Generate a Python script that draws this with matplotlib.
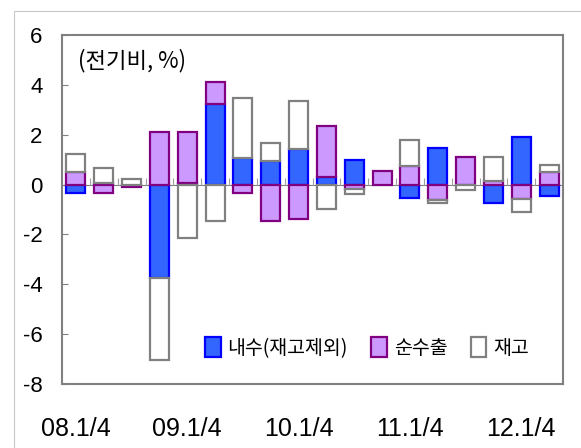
import matplotlib
matplotlib.use('Agg')
import matplotlib.pyplot as plt
import numpy as np
from matplotlib.patches import Rectangle

plt.rcParams['axes.unicode_minus'] = False

# quarters 08.1/4 ~ 12.2/4
quarters = ['08.1/4', '08.2/4', '08.3/4', '08.4/4',
            '09.1/4', '09.2/4', '09.3/4', '09.4/4',
            '10.1/4', '10.2/4', '10.3/4', '10.4/4',
            '11.1/4', '11.2/4', '11.3/4', '11.4/4',
            '12.1/4', '12.2/4']
tick_every = 4

# contributions to growth (%p)
domestic = [-0.32, 0.05, 0.0, -3.75, 0.07, 3.23, 1.08, 0.96, 1.41,
            0.32, 1.0, 0.0, -0.52, 1.45, 0.0, -0.75, 1.92, -0.45]
net_export = [0.52, -0.32, -0.08, 2.12, 2.05, 0.89, -0.33, -1.45, -1.39,
              2.03, -0.18, 0.55, 0.75, -0.62, 1.11, 0.15, -0.56, 0.5]
inventory = [0.7, 0.6, 0.22, -3.3, -2.15, -1.45, 2.38, 0.72, 1.96,
             -1.0, -0.18, 0.0, 1.03, -0.12, -0.22, 0.95, -0.56, 0.27]

series_names = ['내수(재고제외)', '순수출', '재고']
fills = ['#3366FF', '#CC99FF', '#FFFFFF']
edges = ['#0000FF', '#800080', '#808080']

fig = plt.figure(figsize=(5.81, 4.48), dpi=100)
ax = fig.add_axes([62/581, 1 - 384/448, 501/581, 349/448])

# outer chart-area border (only top/left visible)
fig.add_artist(Rectangle((14/581, -0.1), 1.2, 1.1 - 11/448,
                         transform=fig.transFigure, fill=False,
                         edgecolor='#C8C8C8', linewidth=0.8))

x = np.arange(len(quarters))
pos_base = np.zeros(len(x))
neg_base = np.zeros(len(x))
width = 0.68
for vals, name, fc, ec in zip([domestic, net_export, inventory], series_names, fills, edges):
    v = np.array(vals)
    base = np.where(v >= 0, pos_base, neg_base)
    keep = v != 0
    ax.bar(x[keep], v[keep], width, bottom=base[keep], color=fc,
           edgecolor=ec, linewidth=1.6, label=name, zorder=3)
    pos_base += np.where(v > 0, v, 0)
    neg_base += np.where(v < 0, v, 0)

ax.axhline(0, color='#808080', linewidth=0.8, zorder=2)
ax.vlines(x[:-1] + 0.5, 0, 0.28, color='#A0A0A0', linewidth=0.8, zorder=2)

ax.set_xlim(-0.5, len(x) - 0.5)
ax.set_ylim(-8, 6)
ax.set_yticks(np.arange(-8, 7, 2))
ax.set_xticks(x[::tick_every])
ax.set_xticklabels(quarters[::tick_every], family='Liberation Sans', fontsize=18)
ax.tick_params(axis='x', length=0, pad=24)
ax.tick_params(axis='y', direction='in', length=4, color='#808080',
               pad=14, labelsize=16)
for lab in ax.get_yticklabels():
    lab.set_family('Liberation Sans')

for s in ax.spines.values():
    s.set_color('#808080')
    s.set_linewidth(1.5)

ax.text(0.032, 0.928, '(전기비, %)', transform=ax.transAxes,
        family=['Noto Sans CJK KR', 'DejaVu Sans'], fontsize=16, va='center', ha='left')

leg = fig.legend(loc='center', bbox_to_anchor=(367/581, 1 - 348/448), ncol=3,
                 frameon=False, handlelength=0.8, handleheight=1.2,
                 handletextpad=0.35, columnspacing=1.2,
                 prop={'family': ['Noto Sans CJK KR', 'DejaVu Sans'], 'size': 14})

fig.savefig('out.png', dpi=100)
